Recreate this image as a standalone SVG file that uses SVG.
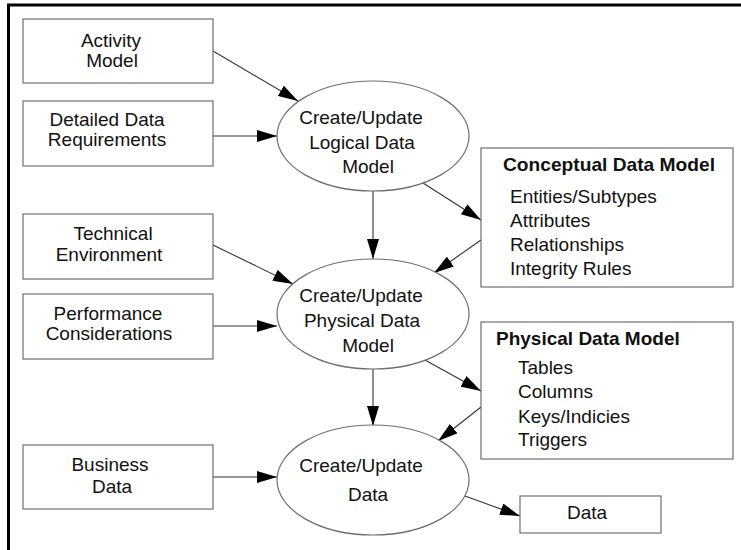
<svg xmlns="http://www.w3.org/2000/svg" width="741" height="550" viewBox="0 0 741 550">
  <style>
    .box { fill: #ffffff; stroke: #6e6e6e; stroke-width: 1.2; }
    .proc { fill: #ffffff; stroke: #6e6e6e; stroke-width: 1.2; }
    .edge { fill: none; stroke: #333333; stroke-width: 1.1; marker-end: url(#arrow); }
    text { font-family: "Liberation Sans", Arial, sans-serif; font-size: 19px; fill: #111111; }
    .c { text-anchor: middle; }
    .title { font-weight: bold; }
  </style>
  <defs>
    <marker id="arrow" viewBox="0 0 20 12" refX="20" refY="6" markerWidth="20" markerHeight="12" markerUnits="userSpaceOnUse" orient="auto">
      <path d="M0,0 L20,6 L0,12 Z" fill="#000000"/>
    </marker>
  </defs>

  <rect width="741" height="550" fill="#ffffff"/>
  <!-- frame -->
  <path d="M8.5,550 V5 H741" fill="none" stroke="#000000" stroke-width="3"/>

  <!-- connectors -->
  <g id="connectors">
    <line class="edge" x1="213" y1="51" x2="298" y2="101"/>
    <line class="edge" x1="213" y1="136" x2="277" y2="136"/>
    <line class="edge" x1="373" y1="191" x2="373" y2="259"/>
    <line class="edge" x1="423" y1="183" x2="481" y2="220"/>
    <line class="edge" x1="481" y1="240" x2="434" y2="273"/>
    <line class="edge" x1="213" y1="245" x2="293" y2="284"/>
    <line class="edge" x1="213" y1="326" x2="277" y2="326"/>
    <line class="edge" x1="373" y1="369" x2="373" y2="426"/>
    <line class="edge" x1="425" y1="360" x2="481" y2="391"/>
    <line class="edge" x1="481" y1="407" x2="438" y2="441"/>
    <line class="edge" x1="213" y1="477" x2="277" y2="477"/>
    <line class="edge" x1="465" y1="496" x2="520" y2="516"/>
  </g>

  <!-- input boxes -->
  <g id="activity-model">
    <rect class="box" x="23" y="19" width="190" height="64"/>
    <text class="c" x="111" y="47">Activity</text>
    <text class="c" x="112" y="67">Model</text>
  </g>
  <g id="detailed-data-requirements">
    <rect class="box" x="23" y="101" width="190" height="65"/>
    <text class="c" x="107" y="126">Detailed Data</text>
    <text class="c" x="107" y="146">Requirements</text>
  </g>
  <g id="technical-environment">
    <rect class="box" x="23" y="214" width="190" height="65"/>
    <text class="c" x="113" y="240">Technical</text>
    <text class="c" x="109" y="261">Environment</text>
  </g>
  <g id="performance-considerations">
    <rect class="box" x="23" y="294" width="190" height="65"/>
    <text class="c" x="108" y="320">Performance</text>
    <text class="c" x="109" y="340">Considerations</text>
  </g>
  <g id="business-data">
    <rect class="box" x="23" y="445" width="190" height="64"/>
    <text class="c" x="110" y="471">Business</text>
    <text class="c" x="112" y="493">Data</text>
  </g>

  <!-- processes -->
  <g id="update-logical">
    <ellipse class="proc" cx="373" cy="136" rx="96" ry="55"/>
    <text class="c" x="361" y="124">Create/Update</text>
    <text class="c" x="362" y="149">Logical Data</text>
    <text class="c" x="368" y="173">Model</text>
  </g>
  <g id="update-physical">
    <ellipse class="proc" cx="373" cy="314" rx="96" ry="55"/>
    <text class="c" x="361" y="302">Create/Update</text>
    <text class="c" x="362" y="327">Physical Data</text>
    <text class="c" x="368" y="352">Model</text>
  </g>
  <g id="update-data">
    <ellipse class="proc" cx="373" cy="480" rx="96" ry="55"/>
    <text class="c" x="361" y="472">Create/Update</text>
    <text class="c" x="368" y="501">Data</text>
  </g>

  <!-- model descriptions -->
  <g id="conceptual-data-model">
    <rect class="box" x="481" y="148" width="252" height="139"/>
    <text class="title" x="503" y="171" textLength="212" lengthAdjust="spacingAndGlyphs">Conceptual Data Model</text>
    <text x="510" y="203">Entities/Subtypes</text>
    <text x="510" y="227">Attributes</text>
    <text x="510" y="251">Relationships</text>
    <text x="510" y="275">Integrity Rules</text>
  </g>
  <g id="physical-data-model">
    <rect class="box" x="481" y="322" width="252" height="137"/>
    <text class="title" x="496" y="345">Physical Data Model</text>
    <text x="518" y="374">Tables</text>
    <text x="518" y="398">Columns</text>
    <text x="518" y="423">Keys/Indicies</text>
    <text x="518" y="446">Triggers</text>
  </g>
  <g id="data">
    <rect class="box" x="520" y="496" width="141" height="37"/>
    <text class="c" x="587" y="519">Data</text>
  </g>
</svg>
